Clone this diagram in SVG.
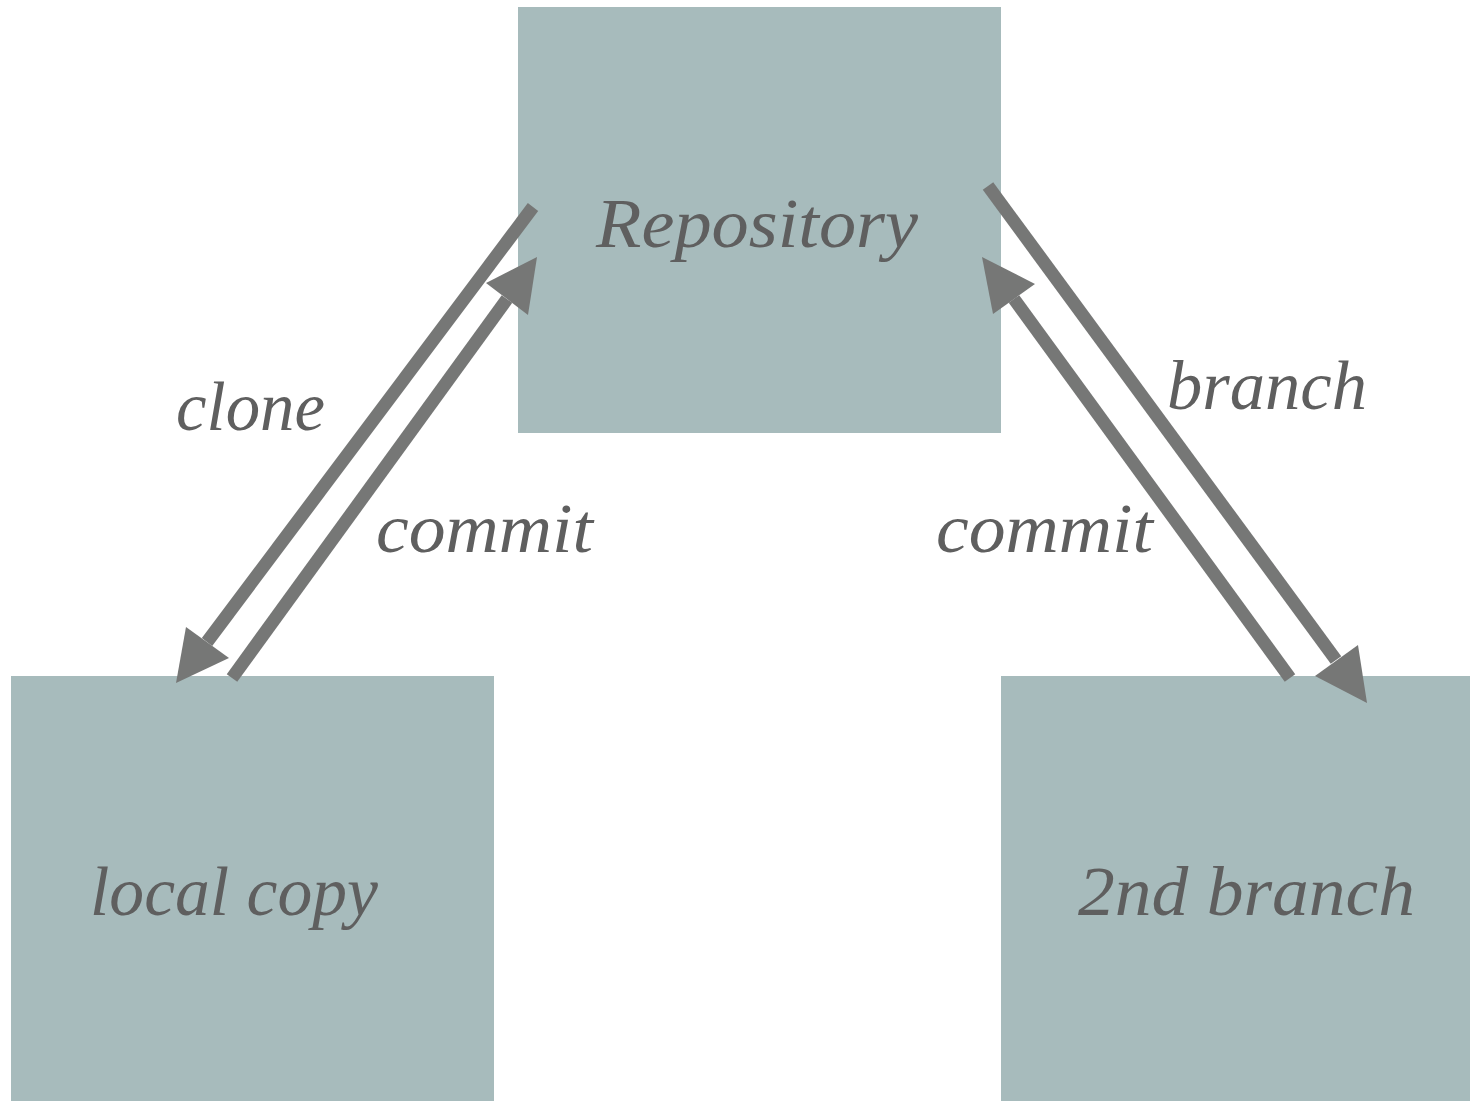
<svg xmlns="http://www.w3.org/2000/svg" width="1470" height="1101" viewBox="0 0 1470 1101">
  <style>
    .box { fill: #a7bbbc; }
    .lbl { font-family: "Liberation Serif", "DejaVu Serif", serif; font-style: italic; fill: #5f5f5f; font-size: 70px; }
    .edge { stroke: #767776; stroke-width: 13; fill: none; }
    .head { fill: #767776; }
  </style>
  <rect width="1470" height="1101" fill="#ffffff"/>

  <g id="repository">
    <rect class="box" x="518" y="7" width="483" height="426"/>
    <text class="lbl" x="596" y="247" textLength="322" lengthAdjust="spacingAndGlyphs">Repository</text>
  </g>
  <g id="local-copy">
    <rect class="box" x="11" y="676" width="483" height="425"/>
    <text class="lbl" x="90" y="915" textLength="288" lengthAdjust="spacingAndGlyphs">local copy</text>
  </g>
  <g id="second-branch">
    <rect class="box" x="1001" y="676" width="469" height="425"/>
    <text class="lbl" x="1078" y="915" textLength="337" lengthAdjust="spacingAndGlyphs">2nd branch</text>
  </g>

  <g id="connectors">
    <!-- clone: repository to local copy -->
    <line class="edge" x1="533" y1="207" x2="207" y2="642"/>
    <polygon class="head" points="176,683 186,627 229,658"/>
    <!-- commit: local copy to repository -->
    <line class="edge" x1="232" y1="678" x2="507" y2="299"/>
    <polygon class="head" points="537,257 486,283 528,315"/>
    <!-- commit: 2nd branch to repository -->
    <line class="edge" x1="1290" y1="678" x2="1014" y2="299"/>
    <polygon class="head" points="982,257 993,314 1035,284"/>
    <!-- branch: repository to 2nd branch -->
    <line class="edge" x1="988" y1="186" x2="1336" y2="660"/>
    <polygon class="head" points="1367,703 1358,645 1315,676"/>

    <text class="lbl" x="176" y="430" textLength="149" lengthAdjust="spacingAndGlyphs">clone</text>
    <text class="lbl" x="376" y="552" textLength="217" lengthAdjust="spacingAndGlyphs">commit</text>
    <text class="lbl" x="936" y="552" textLength="217" lengthAdjust="spacingAndGlyphs">commit</text>
    <text class="lbl" x="1167" y="409" textLength="200" lengthAdjust="spacingAndGlyphs">branch</text>
  </g>
</svg>
